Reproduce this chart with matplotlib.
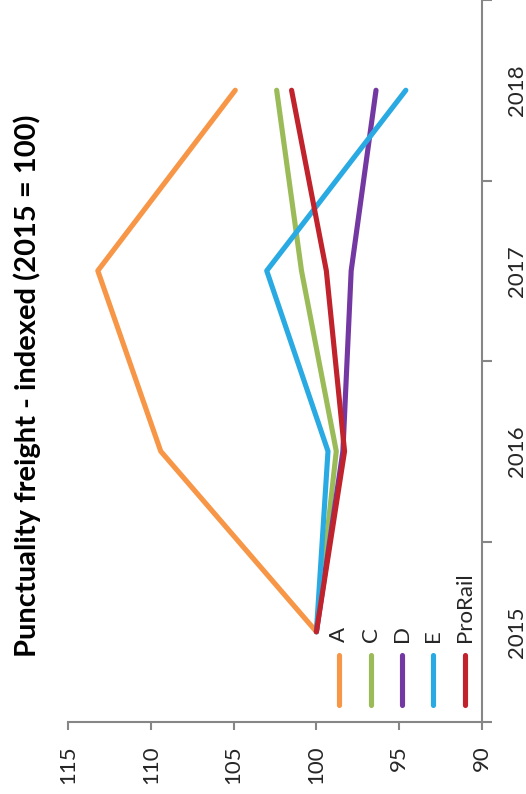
import matplotlib
matplotlib.use("Agg")
import matplotlib.pyplot as plt
from matplotlib.lines import Line2D
import numpy as np

plt.rcParams['font.family'] = ['Lato', 'DejaVu Sans']

# chart data
years = ['2015', '2016', '2017', '2018']
series_names = ['A', 'C', 'D', 'E', 'ProRail']
a_vals = [100, 109.4, 113.2, 104.9]
c_vals = [100, 98.8, 100.9, 102.4]
d_vals = [100, 98.4, 97.9, 96.4]
e_vals = [100, 99.3, 103.0, 94.6]
prorail_vals = [100, 98.3, 99.4, 101.5]
value_ticks = [115, 110, 105, 100, 95, 90]

colors = ['#F79646', '#9BBB59', '#7438A2', '#29AAE2', '#C0232C']
axis_col = '#868686'
text_col = '#262626'

W, H = 526, 794
fig = plt.figure(figsize=(W / 100, H / 100), dpi=100)
ax = fig.add_axes([68 / W, 1 - 722 / H, (482 - 68) / W, 722 / H])

ypos = np.arange(len(years))
all_vals = [a_vals, c_vals, d_vals, e_vals, prorail_vals]
for vals, col, name in zip(all_vals, colors, series_names):
    ax.plot(vals, ypos, color=col, lw=3.7, solid_capstyle='round',
            solid_joinstyle='round', label=name)

# the chart is turned a quarter: values run along the bottom, years up the right
ax.set_xlim(115, 90)
ax.set_ylim(-0.5, len(years) - 0.5)

for s in ['left', 'top']:
    ax.spines[s].set_visible(False)
for s in ['right', 'bottom']:
    ax.spines[s].set_color(axis_col)
    ax.spines[s].set_linewidth(1.5)

ax.set_xticks(value_ticks)
ax.set_xticklabels([str(v) for v in value_ticks], rotation=90)
ax.tick_params(axis='x', direction='out', length=6, width=1.5, color=axis_col,
               labelsize=16, labelcolor=text_col, pad=11)

ax.yaxis.tick_right()
ax.set_yticks(np.arange(-0.5, len(years), 1.0))
ax.set_yticklabels([])
ax.set_yticks(ypos, minor=True)
ax.set_yticklabels(years, minor=True, rotation=90, va='center')
ax.tick_params(axis='y', which='major', direction='out', length=7, width=1.5,
               color=axis_col)
ax.tick_params(axis='y', which='minor', length=0, labelsize=16,
               labelcolor=text_col, pad=18)

# legend, drawn by hand because it is turned too
leg_x = [339, 371, 402, 433, 465]
for x, col, name in zip(leg_x, colors, series_names):
    fig.add_artist(Line2D([x / W, x / W], [1 - 655 / H, 1 - 705 / H],
                          color=col, lw=3.7, solid_capstyle='round'))
    fig.text(x / W, 1 - 642 / H, name, rotation=90, ha='center', va='bottom',
             fontsize=16, color=text_col)

fig.text(27 / W, 1 - 386 / H, 'Punctuality freight - indexed (2015 = 100)',
         rotation=90, ha='center', va='center', fontsize=21,
         fontweight='bold', color='black')

fig.savefig('out.png', dpi=100, facecolor='white')
